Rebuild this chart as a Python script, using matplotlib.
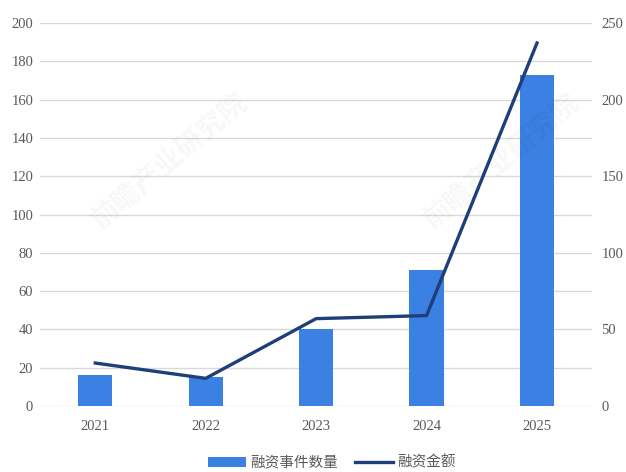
import matplotlib.pyplot as plt
import numpy as np

years = ["2021", "2022", "2023", "2024", "2025"]
deal_count = [16, 15, 40, 71, 173]
deal_amount = [28, 18, 57, 59, 237]

plt.rcParams["font.family"] = ["Noto Sans CJK SC", "DejaVu Sans"]

bar_color = "#3b80e3"
line_color = "#1e3f78"
tick_color = "#595959"
grid_color = "#d9d9d9"

fig = plt.figure(figsize=(6.26, 4.72), dpi=100)
ax = fig.add_axes([0.064, 0.14, 0.882, 0.811])
ax2 = ax.twinx()

x = np.arange(len(years))
bars = ax.bar(x, deal_count, width=0.31, color=bar_color, label="融资事件数量", zorder=2)
line, = ax2.plot(x, deal_amount, color=line_color, lw=2.4, label="融资金额", zorder=3)

ax.set_xlim(-0.5, len(years) - 0.5)
ax.set_ylim(0, 200)
ax.set_yticks(np.arange(0, 201, 20))
ax2.set_ylim(0, 250)
ax2.set_yticks(np.arange(0, 251, 50))
ax.set_xticks(x)
ax.set_xticklabels(years)

ax.grid(axis="y", color=grid_color, lw=1, zorder=0)
ax.set_axisbelow(True)
for a in (ax, ax2):
    for side in ("top", "left", "right", "bottom"):
        a.spines[side].set_visible(False)
    a.tick_params(length=0, colors=tick_color, labelsize=10.5)
ax.tick_params(axis="y", pad=5)
ax2.tick_params(axis="y", pad=6.5)
ax.tick_params(axis="x", pad=10)
for lab in ax.get_xticklabels() + ax.get_yticklabels() + ax2.get_yticklabels():
    lab.set_fontfamily("Liberation Serif")

# faint watermark
for wx, wy in [(0.27, 0.66), (0.8, 0.66)]:
    fig.text(wx, wy, "前瞻产业研究院", fontsize=20, color="#000000", alpha=0.03,
             rotation=40, ha="center", va="center", fontweight="bold")

fig.legend(handles=[bars, line], loc="center", bbox_to_anchor=(0.53, 0.02),
           ncol=2, frameon=False, fontsize=10.5, labelcolor=tick_color,
           handlelength=2.6, columnspacing=1.2, handletextpad=0.3)

fig.savefig("out.png", dpi=100)
